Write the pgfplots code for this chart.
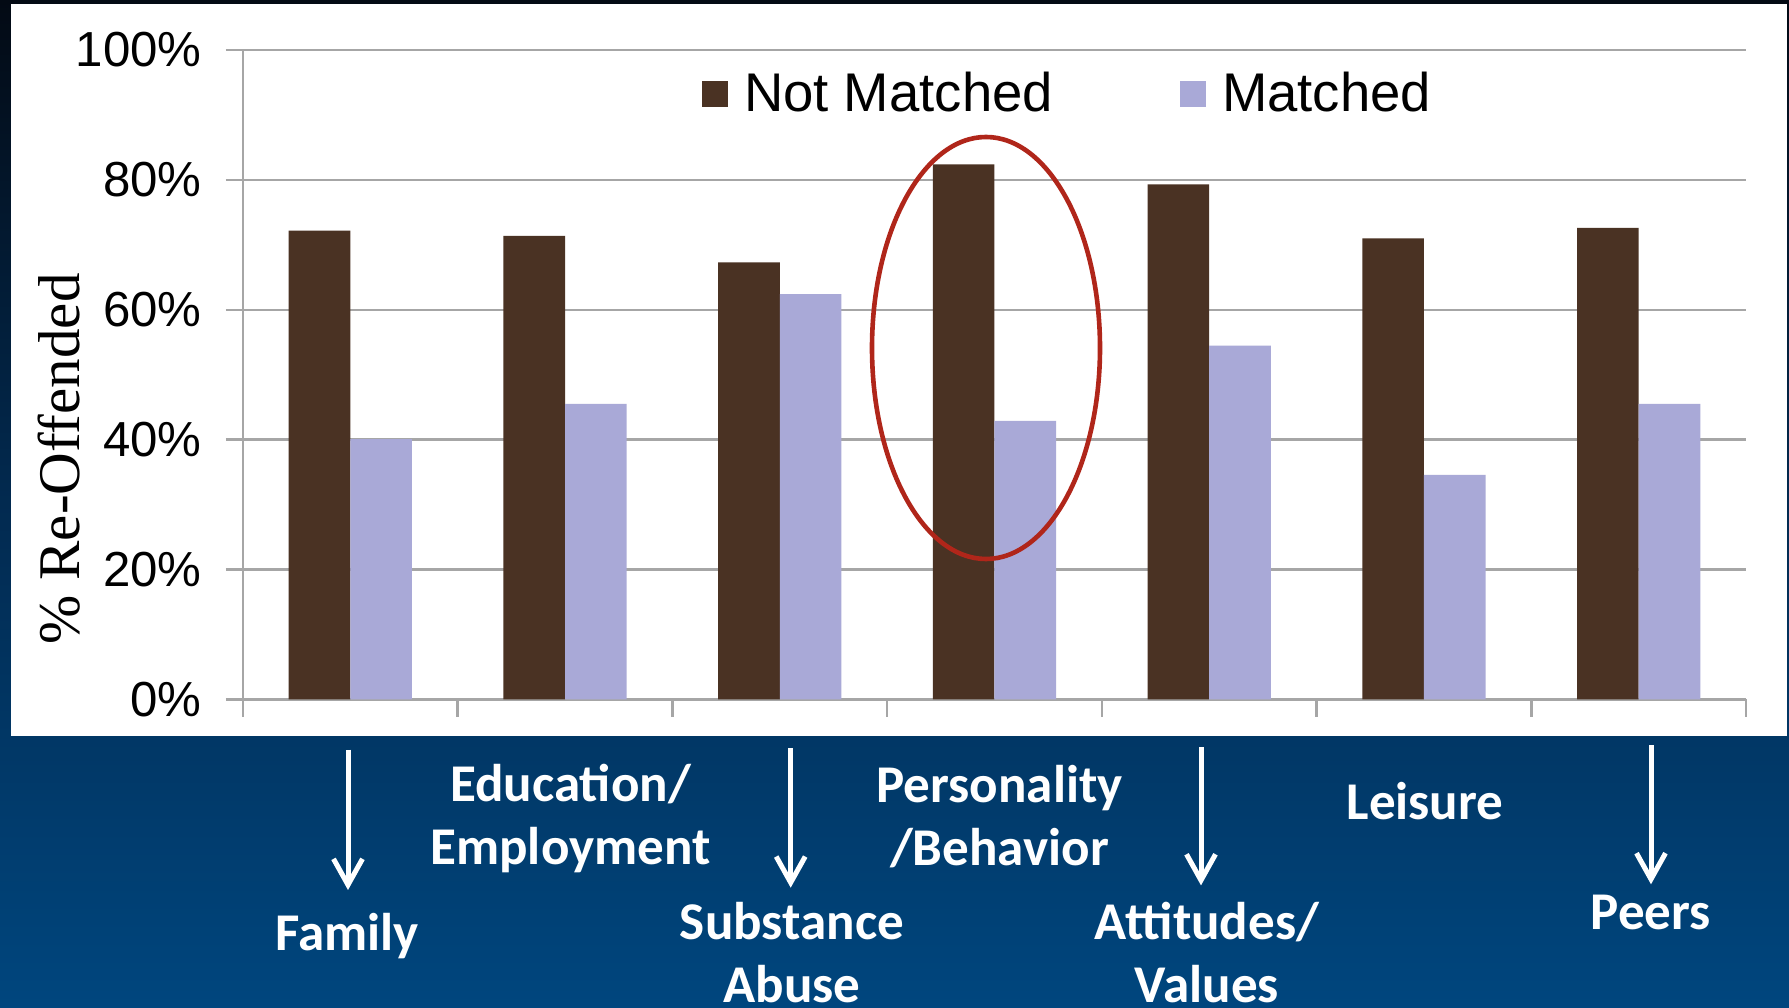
\documentclass[border=0pt]{standalone}
\usepackage{fontspec}
\setmainfont{Liberation Sans}
\newfontfamily\tnrfont{Liberation Serif}
\newfontfamily\calfont{Carlito}
\usepackage{pgfplots}
\usepackage{pgfplotstable}
\pgfplotsset{compat=1.18}
\usetikzlibrary{arrows.meta}
\definecolor{nmbrown}{HTML}{4A3223}
\definecolor{mlav}{HTML}{A9A9D7}
\definecolor{gridgray}{HTML}{A6A6A6}
\definecolor{ellred}{HTML}{B0261A}
\definecolor{navybot}{HTML}{00467E}
\definecolor{navytop}{HTML}{030A14}
\definecolor{navymid}{HTML}{022A50}

\pgfplotstableread{
idx nm m
0 72.2 40.1
1 71.4 45.5
2 67.3 62.4
3 82.4 42.9
4 79.3 54.5
5 71.0 34.6
6 72.6 45.5
}\datatable

\pgfplotsset{
  nmleg/.style={legend image code/.code={\fill[nmbrown] (0mm,-1.3mm) rectangle (2.6mm,1.3mm); \path (3.5mm,0mm);}},
  mleg/.style={legend image code/.code={\fill[mlav] (0mm,-1.3mm) rectangle (2.6mm,1.3mm); \path (3.5mm,0mm);}},
}

\begin{document}
\begin{tikzpicture}
\useasboundingbox (0,0) rectangle (178.9mm,100.7mm);
\shade[top color=navytop, bottom color=navybot, middle color=navymid] (0,0) rectangle (178.9mm,100.7mm);
\fill[white] (1.1mm,27.1mm) rectangle (178.7mm,100.3mm);
\begin{axis}[
  at={(24.3mm,30.75mm)}, anchor=south west,
  scale only axis, width=150.3mm, height=64.95mm,
  xmin=-0.5, xmax=6.5, ymin=0, ymax=100,
  axis lines=left,
  axis line style={-, gridgray, line width=0.25mm},
  tick align=outside,
  major tick length=1.7mm,
  tick style={gridgray, line width=0.25mm},
  xtick={-0.5,0.5,1.5,2.5,3.5,4.5,5.5,6.5},
  xticklabels={},
  ytick={0,20,40,60,80,100},
  yticklabel={\pgfmathprintnumber{\tick}\%},
  /pgf/number format/assume math mode=true,
  yticklabel style={font=\fontsize{14}{16}\selectfont, xshift=-1.2mm},
  ymajorgrids,
  grid style={gridgray, line width=0.25mm},
  ybar=0pt, bar width=0.287,
  legend style={at={(0.305,0.9315)}, anchor=west, draw=none, fill=none,
    legend columns=2, font=\fontsize{15.5}{18}\selectfont,
    /tikz/every even column/.append style={column sep=12mm},
    inner sep=0pt},
  legend cell align=left,
]
\addplot[fill=nmbrown, draw=none, nmleg] table[x=idx,y=nm]{\datatable};
\addlegendentry{Not Matched}
\addplot[fill=mlav, draw=none, mleg] table[x=idx,y=m]{\datatable};
\addlegendentry{Matched}
\end{axis}
\draw[ellred, line width=0.46mm] (98.6mm,65.9mm) ellipse [x radius=11.4mm, y radius=21.1mm];
\node[rotate=90, font=\tnrfont\fontsize{16.8}{20}\selectfont] at (5.9mm,54.8mm) {\% Re-Offended};
\begin{scope}[every node/.style={align=center, text=white, font=\calfont\bfseries\fontsize{15.1}{17.9}\selectfont}]
\node at (34.7mm,7.14mm) {Family};
\node at (57.05mm,18.83mm) {Education/\\Employment};
\node at (79.19mm,5.43mm) {Substance\\Abuse};
\node at (99.95mm,19.0mm) {Personality\\/Behavior};
\node at (120.7mm,5.43mm) {Attitudes/\\Values};
\node at (142.5mm,20.6mm) {Leisure};
\node at (165.1mm,9.42mm) {Peers};
\end{scope}
\begin{scope}[white, line width=0.5mm, -{Straight Barb[length=2.6mm,width=2.9mm]}]
\draw (34.8mm,25.74mm) -- (34.8mm,11.7mm);
\draw (79.07mm,25.85mm) -- (79.07mm,11.93mm);
\draw (120.1mm,25.97mm) -- (120.1mm,12.16mm);
\draw (165.1mm,26.2mm) -- (165.1mm,12.27mm);
\end{scope}
\end{tikzpicture}
\end{document}
